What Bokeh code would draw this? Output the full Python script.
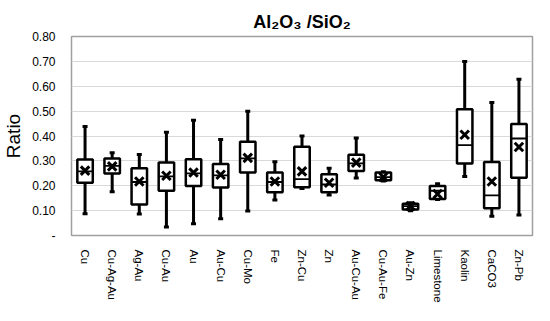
from bokeh.plotting import figure
from bokeh.models import FixedTicker, NumeralTickFormatter, Range1d
from bokeh.embed import file_html
from bokeh.resources import INLINE

categories = ["Cu", "Cu-Ag-Au", "Ag-Au", "Cu-Au", "Au", "Au-Cu", "Cu-Mo", "Fe", "Zn-Cu", "Zn",
              "Au-Cu-Au", "Cu-Au-Fe", "Au-Zn", "Limestone", "Kaolin", "CaCO3", "Zn-Pb"]
whisker_low = [0.087, 0.176, 0.086, 0.034, 0.047, 0.067, 0.098, 0.143, 0.189, 0.163,
               0.231, 0.219, 0.100, 0.145, 0.237, 0.077, 0.082]
q1 = [0.212, 0.249, 0.125, 0.180, 0.199, 0.193, 0.253, 0.174, 0.194, 0.174,
      0.259, 0.222, 0.105, 0.147, 0.289, 0.110, 0.232]
median = [0.258, 0.280, 0.215, 0.238, 0.250, 0.242, 0.310, 0.215, 0.227, 0.205,
          0.290, 0.235, 0.118, 0.180, 0.363, 0.161, 0.390]
q3 = [0.306, 0.310, 0.270, 0.293, 0.307, 0.287, 0.377, 0.253, 0.357, 0.246,
      0.325, 0.253, 0.128, 0.199, 0.508, 0.295, 0.448]
whisker_high = [0.438, 0.333, 0.326, 0.415, 0.463, 0.386, 0.500, 0.296, 0.400, 0.270,
                0.392, 0.256, 0.132, 0.208, 0.700, 0.535, 0.628]
mean = [0.261, 0.278, 0.217, 0.240, 0.253, 0.244, 0.312, 0.217, 0.258, 0.212,
        0.293, 0.235, 0.118, 0.167, 0.405, 0.217, 0.356]
y_ticks = [0.0, 0.1, 0.2, 0.3, 0.4, 0.5, 0.6, 0.7, 0.8]

p = figure(x_range=categories, y_range=Range1d(0, 0.8), width=534, height=305,
           output_backend="svg", toolbar_location=None,
           min_border_left=68, min_border_right=2, min_border_top=36, min_border_bottom=60)
p.title.text = "Al\u2082O\u2083 /SiO\u2082"
p.title.align = "center"
p.title.text_font = "Liberation Sans"
p.title.text_font_size = "18px"
p.title.text_font_style = "bold"
p.title.text_color = "black"

p.outline_line_color = "#a0a0a0"
p.outline_line_width = 1.5
p.background_fill_color = "white"
p.border_fill_color = "white"

p.xgrid.grid_line_color = None
p.ygrid.grid_line_color = "#d9d9d9"
p.ygrid.grid_line_width = 1.2
p.ygrid.ticker = FixedTicker(ticks=y_ticks)

p.yaxis.ticker = FixedTicker(ticks=y_ticks)
p.yaxis.formatter = NumeralTickFormatter(format="0.00")
p.yaxis.major_label_overrides = {0: "-"}
p.yaxis.axis_line_color = None
p.yaxis.major_tick_line_color = None
p.yaxis.minor_tick_line_color = None
p.yaxis.major_label_text_font = "Liberation Sans"
p.yaxis.major_label_text_font_size = "12px"
p.yaxis.major_label_text_color = "black"
p.yaxis.major_label_standoff = 10
p.yaxis.axis_label = "Ratio"
p.yaxis.axis_label_text_font = "Liberation Sans"
p.yaxis.axis_label_text_font_size = "19px"
p.yaxis.axis_label_text_font_style = "normal"
p.yaxis.axis_label_text_color = "black"
p.yaxis.axis_label_standoff = 5

p.xaxis.axis_line_color = None
p.xaxis.major_tick_line_color = None
p.xaxis.minor_tick_line_color = None
p.xaxis.major_label_orientation = "vertical"
p.xaxis.major_label_text_font = "Liberation Sans"
p.xaxis.major_label_text_font_size = "11.5px"
p.xaxis.major_label_text_color = "black"
p.xaxis.major_label_standoff = 8

# whiskers
p.segment(x0=categories, y0=q3, x1=categories, y1=whisker_high, line_color="black", line_width=3)
p.segment(x0=categories, y0=whisker_low, x1=categories, y1=q1, line_color="black", line_width=3)
p.scatter(x=categories, y=whisker_high, marker="dash", size=5, line_color="black", line_width=3)
p.scatter(x=categories, y=whisker_low, marker="dash", size=5, line_color="black", line_width=3)
# boxes
p.vbar(x=categories, bottom=q1, top=q3, width=0.57, fill_color="white",
       line_color="black", line_width=2.5)
p.scatter(x=categories, y=median, marker="dash", size=16, line_color="black", line_width=1.8)
p.scatter(x=categories, y=mean, marker="x", size=12, line_color="black", line_width=3)

open("out.html", "w").write(file_html(p, INLINE))
